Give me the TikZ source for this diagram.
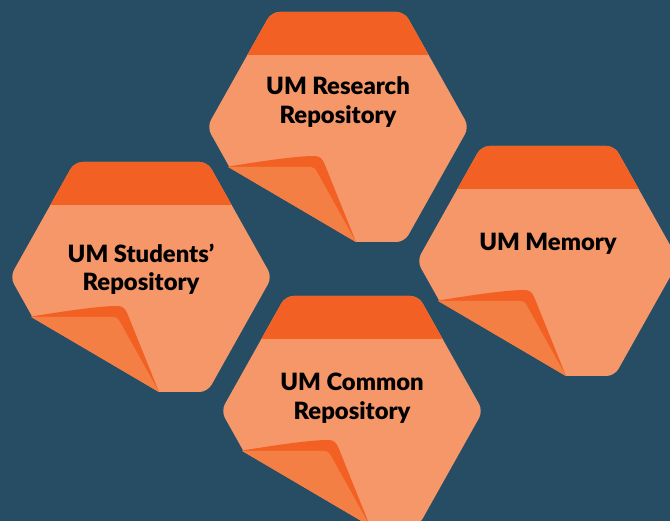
\documentclass[tikz,border=0pt]{standalone}
\usepackage{fontspec}
\setmainfont{Lato}
\newfontfamily\notefont{Lato Black}
\definecolor{bgc}{HTML}{264D63}
\definecolor{bodyc}{HTML}{F6976A}
\definecolor{bandc}{HTML}{F26123}
\definecolor{flapc}{HTML}{F47F45}
\tikzset{
  bodyfill/.style={fill=bodyc},
  bandfill/.style={fill=bandc},
  flapfill/.style={fill=flapc},
  notetext/.style={font=\notefont\fontsize{23.8}{28.5}\selectfont, text=black, align=center, inner sep=0pt}
}
\newcommand\notehex[5]{%
  \begin{scope}[shift={(#2,#3)}]
    \begin{scope}
      \clip[rounded corners=8pt] (-131,0) -- (-66.5,-115) -- (66.5,-115) -- (131,0) -- (66.5,115) -- (-66.5,115) -- cycle;
      \fill[bodyfill] (-236,-35) -- (-236,-200) -- (200,-200) -- (200,190) -- (145,190) -- cycle;
      \fill[bandfill] (-140,-130) rectangle (140,-72);
    \end{scope}
    \fill[bandfill] (-110,39.5) .. controls (-75,34) and (-42,29) .. (-24,29) .. controls (-18,29) and (-16,31) .. (-13,38) -- (18,115) -- cycle;
    \fill[flapfill] (-110,40) -- (-29,40) .. controls (-25,40) and (-23,41) .. (-21,45) -- (18,115) -- cycle;
    \node[notetext] (#1) at (0,#5) {#4};
  \end{scope}}
\begin{document}
\begin{tikzpicture}[x=1pt,y=-1pt]
  \fill[bgc] (0,0) rectangle (670,521);
  \useasboundingbox (0,0) rectangle (670,521);
  \notehex{research}{338}{127}{UM Research\\Repository}{-25}
  \notehex{students}{141}{277}{UM Students’\\Repository}{-8}
  \notehex{memory}{548}{261}{UM Memory}{-17}
  \notehex{common}{352}{411}{UM Common\\Repository}{-13}
\end{tikzpicture}
\end{document}
